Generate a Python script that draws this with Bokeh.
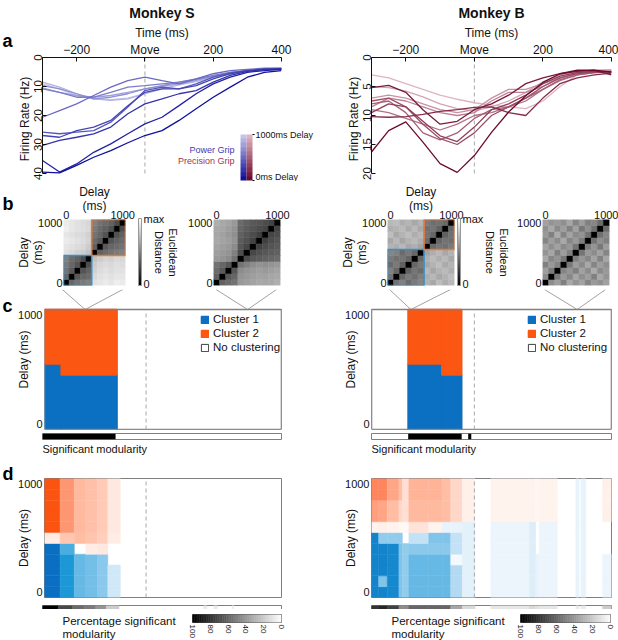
import math
from bokeh.plotting import figure
from bokeh.layouts import row, column
from bokeh.models import (Range1d, FixedTicker, ColorBar, LinearColorMapper, Title,
                          Legend, LegendItem, ColumnDataSource)
from bokeh.core.properties import value
from bokeh.palettes import Greys256
from bokeh.transform import linear_cmap
from bokeh.embed import file_html
from bokeh.resources import INLINE

FONT = "Liberation Sans"
INK = "#111111"

# ======================= DATA =======================
T0, T1, MOVE = -300, 400, 0
times = [-300, -250, -200, -150, -100, -50, 0, 50, 100, 150, 200, 250, 300, 350, 400]
delays = [0, 100, 200, 300, 400, 500, 600, 700, 800, 900, 1000]
time_ticks = [-200, 0, 200, 400]
time_labels = {0: "Move"}

# panel a: firing rate (Hz) per delay condition (0 ... 1000 ms)
rates_S = [
    [39.5, 39.8, 37.2, 34.4, 32.1, 29.4, 26.9, 25.2, 21.7, 17.7, 13.7, 10.2, 6.8, 5.1, 4.5],
    [35.5, 39.5, 36.7, 32.7, 29.8, 26.3, 22.9, 20.6, 16.6, 12.5, 9.1, 6.8, 5.1, 4.5, 4.1],
    [30.3, 28.6, 27.5, 26.3, 24.0, 19.4, 16.0, 14.3, 12.5, 11.4, 8.5, 6.2, 4.8, 4.1, 3.9],
    [26.9, 27.5, 25.2, 24.0, 21.7, 16.6, 12.0, 10.8, 10.8, 9.7, 7.4, 5.6, 4.5, 4.1, 3.9],
    [25.7, 26.3, 25.7, 25.2, 22.3, 17.1, 11.4, 10.2, 10.8, 9.1, 6.8, 5.3, 4.5, 3.9, 3.9],
    [20.6, 18.3, 16.0, 13.1, 10.2, 8.0, 6.8, 8.0, 9.1, 7.4, 5.6, 4.5, 4.1, 3.7, 3.7],
    [10.8, 12.0, 13.7, 13.7, 12.0, 10.2, 9.7, 9.1, 8.5, 7.4, 6.2, 5.1, 4.5, 4.1, 3.9],
    [9.7, 10.8, 12.5, 14.3, 13.7, 12.5, 10.8, 9.7, 8.5, 7.6, 6.4, 5.3, 4.5, 3.9, 3.7],
    [10.5, 12.0, 13.1, 13.7, 13.1, 12.0, 10.8, 9.9, 9.1, 7.9, 6.4, 5.1, 4.5, 4.1, 3.9],
    [8.5, 10.2, 12.5, 14.3, 14.8, 14.3, 12.5, 10.8, 9.4, 8.3, 6.8, 5.6, 4.8, 4.1, 3.9],
    [9.1, 10.8, 13.1, 14.3, 14.5, 14.0, 12.5, 10.2, 9.1, 7.9, 6.8, 5.6, 4.8, 4.1, 3.9],
]
rates_B = [
    [16.3, 12.6, 11.1, 14.6, 18.3, 19.8, 16.9, 12.9, 9.4, 6.6, 4.3, 2.8, 2.2, 2.2, 2.5],
    [5.2, 4.8, 6.0, 9.0, 11.5, 11.0, 9.0, 8.0, 6.5, 4.5, 3.5, 2.8, 2.4, 2.2, 3.0],
    [10.2, 10.3, 10.2, 9.8, 9.3, 9.0, 8.6, 8.5, 9.5, 10.0, 7.0, 4.5, 3.5, 3.0, 2.7],
    [9.5, 8.0, 8.5, 11.0, 13.5, 14.5, 12.0, 9.0, 8.0, 6.5, 4.5, 3.2, 2.6, 2.4, 2.5],
    [7.5, 7.0, 8.5, 11.5, 14.0, 15.0, 13.0, 10.0, 8.5, 7.0, 5.0, 3.5, 2.8, 2.5, 2.6],
    [8.0, 7.5, 9.5, 13.0, 14.2, 13.0, 10.5, 9.0, 8.5, 7.0, 5.5, 3.8, 3.0, 2.6, 2.5],
    [9.0, 9.5, 10.5, 11.5, 12.5, 11.5, 10.0, 9.5, 8.5, 7.5, 5.5, 4.0, 3.0, 2.6, 2.4],
    [8.5, 7.0, 7.5, 8.5, 9.5, 10.0, 9.5, 7.5, 6.0, 6.0, 5.0, 3.5, 2.8, 2.5, 2.4],
    [7.0, 6.5, 7.0, 8.0, 9.0, 9.5, 9.0, 7.0, 5.5, 5.5, 4.5, 3.5, 2.8, 2.4, 2.3],
    [5.0, 5.2, 5.8, 6.8, 8.0, 8.8, 9.2, 8.5, 7.5, 6.0, 4.2, 3.0, 2.5, 2.2, 2.1],
    [3.0, 3.5, 4.5, 5.5, 6.5, 7.2, 7.8, 8.2, 8.5, 8.8, 7.5, 5.0, 3.0, 2.5, 2.3],
]
ymax_S, yticks_S = 40, [0, 10, 20, 30, 40]
ymax_B, yticks_B = 20, [0, 5, 10, 15, 20]

# panel b: euclidean distance matrices (fraction of max), rows/cols = delays
snap_S = [-180, 300]
snap_B = [-185, 300]
dist_S1 = [
    [0, .40, .45, .48, .50, .88, .90, .92, .90, .93, .92],
    [.40, 0, .35, .40, .42, .85, .88, .90, .88, .90, .90],
    [.45, .35, 0, .33, .38, .82, .86, .88, .86, .88, .88],
    [.48, .40, .33, 0, .30, .80, .84, .86, .85, .87, .86],
    [.50, .42, .38, .30, 0, .76, .80, .83, .82, .85, .84],
    [.88, .85, .82, .80, .76, 0, .38, .42, .45, .48, .50],
    [.90, .88, .86, .84, .80, .38, 0, .35, .40, .42, .45],
    [.92, .90, .88, .86, .83, .42, .35, 0, .33, .38, .42],
    [.90, .88, .86, .85, .82, .45, .40, .33, 0, .32, .38],
    [.93, .90, .88, .87, .85, .48, .42, .38, .32, 0, .30],
    [.92, .90, .88, .86, .84, .50, .45, .42, .38, .30, 0],
]
dist_S2 = [
    [0, .38, .42, .45, .60, .62, .64, .66, .65, .66, .68],
    [.38, 0, .35, .40, .58, .60, .62, .64, .63, .65, .66],
    [.42, .35, 0, .34, .55, .58, .60, .62, .60, .62, .64],
    [.45, .40, .34, 0, .45, .50, .55, .58, .56, .58, .60],
    [.60, .58, .55, .45, 0, .30, .34, .36, .38, .40, .42],
    [.62, .60, .58, .50, .30, 0, .28, .32, .34, .36, .38],
    [.64, .62, .60, .55, .34, .28, 0, .26, .30, .33, .35],
    [.66, .64, .62, .58, .36, .32, .26, 0, .25, .30, .33],
    [.65, .63, .60, .56, .38, .34, .30, .25, 0, .27, .30],
    [.66, .65, .62, .58, .40, .36, .33, .30, .27, 0, .26],
    [.68, .66, .64, .60, .42, .38, .35, .33, .30, .26, 0],
]
dist_B1 = [
    [0, .45, .50, .42, .48, .52, .70, .66, .74, .68, .72],
    [.45, 0, .40, .48, .44, .50, .68, .72, .66, .70, .74],
    [.50, .40, 0, .38, .46, .42, .72, .65, .70, .73, .68],
    [.42, .48, .38, 0, .40, .47, .66, .70, .74, .67, .71],
    [.48, .44, .46, .40, 0, .41, .69, .73, .68, .72, .66],
    [.52, .50, .42, .47, .41, 0, .64, .68, .72, .66, .70],
    [.70, .68, .72, .66, .69, .64, 0, .42, .46, .44, .48],
    [.66, .72, .65, .70, .73, .68, .42, 0, .40, .45, .43],
    [.74, .66, .70, .74, .68, .72, .46, .40, 0, .38, .44],
    [.68, .70, .73, .67, .72, .66, .44, .45, .38, 0, .41],
    [.72, .74, .68, .71, .66, .70, .48, .43, .44, .41, 0],
]
dist_B2 = [
    [0, .55, .62, .50, .66, .58, .64, .52, .60, .57, .63],
    [.55, 0, .48, .60, .53, .65, .56, .62, .50, .66, .58],
    [.62, .48, 0, .52, .58, .50, .63, .55, .67, .54, .60],
    [.50, .60, .52, 0, .47, .61, .54, .66, .52, .62, .56],
    [.66, .53, .58, .47, 0, .50, .59, .53, .64, .51, .65],
    [.58, .65, .50, .61, .50, 0, .46, .60, .55, .63, .52],
    [.64, .56, .63, .54, .59, .46, 0, .49, .58, .47, .61],
    [.52, .62, .55, .66, .53, .60, .49, 0, .45, .56, .50],
    [.60, .50, .67, .52, .64, .55, .58, .45, 0, .44, .53],
    [.57, .66, .54, .62, .51, .63, .47, .56, .44, 0, .42],
    [.63, .58, .60, .56, .65, .52, .61, .50, .53, .42, 0],
]

# panel c: clustering blocks (time start, end, number of delay rows in cluster 1)
clu_t0_S, clu_t1_S, clu_n1_S = [-300, -251], [-251, -86], [6, 5]
clu_t0_B, clu_t1_B, clu_n1_B = [-193, -95], [-95, -37], [6, 5]
sig_t0_S, sig_t1_S = [-300], [-86]
sig_t0_B, sig_t1_B = [-193, -18], [-37, -9]

# panel d: signed % (+ cluster 2 / - cluster 1) per time block and delay row (0..1000)
d_t0_S = [-300, -254, -212, -178, -144, -113, 172, 202, 255]
d_t1_S = [-254, -212, -178, -144, -113, -76, 182, 212, 261]
d_val_S = [
    [-100, -100, -100, -100, -100, 12, 100, 100, 100, 100, 100],
    [-80, -80, -80, -80, -65, 35, 65, 65, 65, 65, 65],
    [-55, -55, -55, -55, 0, 40, 42, 42, 42, 42, 42],
    [-50, -50, -50, -50, 12, 36, 38, 38, 38, 38, 38],
    [-42, -42, -42, -42, 15, 30, 32, 32, 32, 32, 32],
    [-20, -20, -20, 0, 0, 12, 15, 15, 15, 15, 15],
    [0, 0, 0, 0, 0, 0, 0, 0, 0, 0, 0],
    [0, 0, 0, 0, 0, 0, 0, 0, 0, 0, 0],
    [0, 0, 0, 0, 0, 0, 0, 0, 0, 0, 0],
]
d_pct_S = [100, 72, 58, 52, 42, 20, 8, 8, 6]

d_t0_B = [-300, -279, -254, -220, -210, -191, -133, -94, -69, -35, 48, 160, 179, 189, 296, 311, 374]
d_t1_B = [-279, -254, -220, -210, -191, -133, -94, -69, -35, 2, 160, 179, 189, 242, 306, 325, 400]
d_val_B = [
    [-90, -90, -90, -90, -90, -90, 8, 60, 60, 75, 75],
    [-90, -45, -90, -90, -90, -40, 10, 55, 55, 75, 75],
    [-88, -88, -88, -88, -88, -40, 8, 40, 40, 55, 55],
    [-45, -45, -45, -45, -45, -40, 5, 25, 25, 40, 40],
    [-40, -40, -40, -40, -40, 0, 5, 20, 20, 20, 20],
    [-55, -55, -55, -55, -42, -25, 18, 42, 42, 45, 45],
    [-55, -55, -55, -55, -42, -45, 8, 42, 42, 45, 45],
    [-55, -55, -55, -55, -42, -45, -10, 40, 40, 40, 40],
    [-30, -30, -30, -5, -25, -25, -10, 25, 25, 25, 25],
    [-12, -12, -12, -12, -12, -12, -12, 10, 10, 10, 10],
    [-8, -8, -8, -8, -8, -8, -8, 8, 8, 8, 8],
    [-14, -14, -14, -14, -14, -14, -14, 8, 8, 8, 8],
    [-10, -10, -10, -10, 0, 0, 0, 6, 6, 6, 6],
    [-8, -8, -8, -8, -8, -8, -8, 8, 8, 8, 8],
    [-10, -10, -10, -10, -10, -10, -10, -10, -10, -10, -10],
    [-10, -10, -10, -10, -10, -10, -10, -10, -10, -10, -10],
    [-8, -8, -8, -8, 0, 0, 0, 10, 10, 10, 10],
]
d_pct_B = [80, 85, 75, 45, 45, 60, 60, 60, 35, 15, 10, 15, 12, 10, 8, 8, 20]

pct_ticks = [100, 80, 60, 40, 20, 0]
pct_key = list(range(0, 100, 2))

# ======================= STYLE / LAYOUT =======================
BLUE, ORANGE = "#0b6fc2", "#fb5612"
BOX_BLUE, BOX_ORANGE = "#3a8ecb", "#e8793a"
GRID_GREY = "#7f7f7f"
BLUE_RAMP = [(0, "#ffffff"), (10, "#e8f3fb"), (25, "#c4e2f5"), (45, "#80c4ea"),
             (60, "#5ab4e3"), (80, "#1c98d6"), (100, "#0a6fc2")]
ORANGE_RAMP = [(0, "#ffffff"), (10, "#fff0ea"), (25, "#ffd7c8"), (45, "#ffb498"),
               (60, "#ff9f7e"), (80, "#fd7c50"), (100, "#fb5410")]


def hx(c):
    return [int(c[i:i + 2], 16) for i in (1, 3, 5)]


def to_hex(rgb):
    return "#%02x%02x%02x" % tuple(max(0, min(255, int(round(v)))) for v in rgb)


def lerp(a, b, f):
    ca, cb = hx(a), hx(b)
    return to_hex([ca[i] + (cb[i] - ca[i]) * f for i in range(3)])


def ramp(anchors, v):
    v = max(anchors[0][0], min(anchors[-1][0], v))
    for (p0, c0), (p1, c1) in zip(anchors, anchors[1:]):
        if v <= p1:
            return lerp(c0, c1, (v - p0) / (p1 - p0))
    return anchors[-1][1]


def signed_color(v):
    return ramp(ORANGE_RAMP, v) if v >= 0 else ramp(BLUE_RAMP, -v)


def grey(p):
    g = 255 * (1 - p / 100.0)
    return to_hex([g, g, g])


colors_S = [lerp("#10109c", "#c4c4ea", d / 1000) for d in delays]
colors_B = [lerp("#6e0b2d", "#dfb4c2", d / 1000) for d in delays]

# page geometry (pixels from the page's top-left corner)
STRIP_W = 14
Y_A0, A_TOP, A_DATA_BOT, A_BOT = 0, 57, 173, 180
Y_B0, B_TOP, B_BOT = 181, 218, 285
Y_C0, C_TOP, C_BOT = 289, 309, 429
Y_S0, S_BOT = 433, 439
Y_D0, D_TOP, D_BOT = 462, 478, 597
Y_P0, P_BOT = 601, 607
Y_K0, K_TOP, K_BOT = 609, 614, 623
Y_END = 640
MAT = 67

COLS = {
    "S": dict(x0=14, w=300, fl=42, fr=281, b1w=171, b1l=44, b2w=129, b2l=28, cb_off=8,
              eu_gap=13, kl=192, kr=281, txt_x=62, leg_x=198),
    "B": dict(x0=314, w=304, fl=371, fr=611, b1w=198, b1l=73, b2w=106, b2l=30, cb_off=3,
              eu_gap=15, kl=520, kr=610, txt_x=391, leg_x=527),
}
letters = ["a", "b", "c", "d"]
letter_base = [40, 203, 305, 473]


def fig(w, h, bl, br, bt, bb, xr, yr, xloc=None, yloc=None, title=None):
    p = figure(width=w, height=h, x_range=xr, y_range=yr, x_axis_location=xloc,
               y_axis_location=yloc, title=title, output_backend="svg", toolbar_location=None,
               min_border_left=bl, min_border_right=br, min_border_top=bt, min_border_bottom=bb)
    p.grid.visible = False
    p.outline_line_color = None
    p.background_fill_color = "white"
    p.border_fill_color = "white"
    return p


def style_axis(ax, size):
    ax.major_label_text_font = FONT
    ax.major_label_text_font_size = size
    ax.major_label_text_color = INK
    ax.axis_label_text_font = FONT
    ax.axis_label_text_font_style = "normal"
    ax.axis_label_text_font_size = "12px"
    ax.axis_label_text_color = INK
    ax.minor_tick_line_color = None


def tpx(c, px):
    return T0 + (px - c["fl"]) * (T1 - T0) / (c["fr"] - c["fl"])


def panel_a(c, rates, ymax, yticks, colors, title, first):
    ext = ymax * (A_BOT - A_TOP) / (A_DATA_BOT - A_TOP)
    p = fig(c["w"], Y_B0 - Y_A0, c["fl"] - c["x0"], c["x0"] + c["w"] - c["fr"],
            A_TOP - Y_A0, Y_B0 - A_BOT, Range1d(T0, T1), Range1d(ext, 0),
            xloc="above", yloc="left", title=title)
    p.title.align = "center"
    p.title.text_font = FONT
    p.title.text_font_size = "14px"
    p.title.text_font_style = "bold"
    p.title.text_color = INK
    p.title.standoff = 4
    xa, ya = p.xaxis[0], p.yaxis[0]
    for ax in (xa, ya):
        style_axis(ax, "12px")
        ax.major_tick_in = 4
        ax.major_tick_out = 0
        ax.major_label_standoff = 1
        ax.axis_label_standoff = 0
        ax.axis_line_color = INK
        ax.major_tick_line_color = INK
    ya.major_label_text_font_size = "11.5px"
    ya.axis_label_standoff = -1
    xa.ticker = FixedTicker(ticks=time_ticks)
    xa.major_label_overrides = time_labels
    xa.axis_label = "Time (ms)"
    ya.ticker = FixedTicker(ticks=yticks)
    ya.bounds = (0, ymax)
    ya.major_label_orientation = "vertical"
    ya.axis_label = "Firing Rate (Hz)"
    p.segment(x0=[MOVE], y0=[0], x1=[MOVE], y1=[ymax], line_color="#a8a8a8",
              line_dash="4 3", line_width=1)
    for i in reversed(range(len(delays))):
        p.line(times, rates[i], line_color=colors[i], line_width=1.3)
    if first:
        cm1 = LinearColorMapper(palette=colors_S, low=delays[0], high=delays[-1])
        cm2 = LinearColorMapper(palette=colors_B, low=delays[0], high=delays[-1])
        common = dict(orientation="vertical", width=6, height=46, padding=0, margin=0,
                      border_line_color=None, background_fill_alpha=0, bar_line_color=None,
                      title=None)
        p.add_layout(ColorBar(color_mapper=cm1, location=(198, 0), ticker=FixedTicker(ticks=[]),
                              major_tick_line_color=None, **common))
        p.add_layout(ColorBar(color_mapper=cm2, location=(204, 0),
                              ticker=FixedTicker(ticks=[delays[0], delays[-1]]),
                              major_label_overrides={delays[0]: "0ms Delay",
                                                     delays[-1]: "1000ms Delay"},
                              major_tick_in=0, major_tick_out=2, major_tick_line_color="black",
                              label_standoff=1, major_label_text_font=FONT,
                              major_label_text_color=INK,
                              major_label_text_font_size="9px", **common))
        sc = ymax / (A_DATA_BOT - A_TOP)
        p.text(x=[tpx(c, 234)] * 2, y=[(149.5 - A_TOP) * sc, (160.5 - A_TOP) * sc],
               text=["Power Grip", "Precision Grip"], text_color=["#3b3bb2", "#a8324e"],
               text_font=value(FONT), text_font_size="9px", text_align="right",
               text_baseline="middle")
    return p


def side_title(s, standoff=0, size="11px"):
    return Title(text=s, align="center", standoff=standoff, text_font=FONT,
                 text_font_size=size, text_font_style="normal", text_color=INK)


def panel_b(c, M1, M2, split):
    figs = []
    specs = [(M1, c["b1w"], c["b1l"]), (M2, c["b2w"], c["b2l"])]
    for k, (M, w, bl) in enumerate(specs):
        p = fig(w, Y_C0 - Y_B0, bl, w - bl - MAT, B_TOP - Y_B0, Y_C0 - B_BOT,
                Range1d(-50, 1050), Range1d(-50, 1050), xloc="above", yloc="left")
        xs, ys, vs = [], [], []
        for i, di in enumerate(delays):
            for j, dj in enumerate(delays):
                xs.append(dj)
                ys.append(di)
                vs.append(M[i][j])
        src = ColumnDataSource(dict(x=xs, y=ys, v=vs))
        cmap = linear_cmap("v", Greys256, 0, 1)
        p.rect("x", "y", width=100, height=100, source=src, fill_color=cmap,
               line_color=cmap, line_width=0.5)
        for ax in (p.xaxis[0], p.yaxis[0]):
            style_axis(ax, "11px")
            ax.ticker = FixedTicker(ticks=[delays[0], delays[-1]])
            ax.axis_line_color = None
            ax.major_tick_line_color = None
            ax.major_tick_out = 0
            ax.major_tick_in = 0
            ax.major_label_standoff = 1
            ax.axis_label_text_line_height = 1.0
        if k == 0:
            p.xaxis[0].axis_label = "Delay\n(ms)"
            p.xaxis[0].axis_label_standoff = -5
            p.yaxis[0].axis_label = "Delay\n(ms)"
            p.yaxis[0].axis_label_standoff = -10
            e = split * 100 - 50
            p.quad(left=[-50], right=[e], bottom=[-50], top=[e], fill_color=None,
                   line_color=BOX_BLUE, line_width=1.6)
            p.quad(left=[e], right=[1050], bottom=[e], top=[1050], fill_color=None,
                   line_color=BOX_ORANGE, line_width=1.6)
            p.add_layout(ColorBar(color_mapper=LinearColorMapper(palette=Greys256, low=0, high=1),
                                  location=(MAT + c["cb_off"], 0), orientation="vertical",
                                  width=3, height=MAT, padding=0, margin=0,
                                  ticker=FixedTicker(ticks=[0, 1]),
                                  major_label_overrides={0: "0", 1: "max"},
                                  major_tick_line_color=None, label_standoff=2,
                                  major_label_text_font=FONT, major_label_text_font_size="11px",
                                  major_label_text_color=INK,
                                  border_line_color=None, background_fill_alpha=0,
                                  bar_line_color="#999999", title=None))
            # blank spacer keeps the rotated colour-bar title clear of the bar labels
            p.add_layout(side_title(" ", standoff=c["eu_gap"]), "right")
            p.add_layout(side_title("Distance"), "right")
            p.add_layout(side_title("Euclidean"), "right")
        figs.append(p)
    return row(*figs)


def no_cluster_intervals(t0s, t1s):
    out0, out1, cur = [], [], T0
    for a, b in sorted(zip(t0s, t1s)):
        if a > cur:
            out0.append(cur)
            out1.append(a)
        cur = max(cur, b)
    if cur < T1:
        out0.append(cur)
        out1.append(T1)
    return out0, out1


def delay_axis(ya):
    style_axis(ya, "11px")
    ya.ticker = FixedTicker(ticks=[delays[0], delays[-1]])
    ya.axis_line_color = None
    ya.major_tick_line_color = None
    ya.major_tick_out = 0
    ya.major_tick_in = 0
    ya.major_label_standoff = 2
    ya.axis_label = "Delay (ms)"
    ya.axis_label_standoff = -16


def panel_c(c, t0s, t1s, n1s, snaps):
    ytop = -50 + 1100 * (C_BOT - Y_C0) / (C_BOT - C_TOP)
    p = fig(c["w"], Y_S0 - Y_C0, c["fl"] - c["x0"], c["x0"] + c["w"] - c["fr"], 0,
            Y_S0 - C_BOT, Range1d(T0, T1), Range1d(-50, ytop), yloc="left")
    delay_axis(p.yaxis[0])
    n0, n1 = no_cluster_intervals(t0s, t1s)
    rn = p.quad(left=n0, right=n1, bottom=[-50] * len(n0), top=[1050] * len(n0),
                fill_color="white", line_color="#404040", line_width=1)
    b_tops = [n * 100 - 50 for n in n1s]
    rb = p.quad(left=t0s, right=t1s, bottom=[-50] * len(t0s), top=b_tops,
                fill_color=BLUE, line_color=BLUE, line_width=1.4)
    ro = p.quad(left=t0s, right=t1s, bottom=b_tops, top=[1050] * len(t0s),
                fill_color=ORANGE, line_color=ORANGE, line_width=1.4)
    p.quad(left=[T0], right=[T1], bottom=[-50], top=[1050], fill_color=None,
           line_color=GRID_GREY, line_width=1.6)
    p.segment(x0=[MOVE], y0=[-50], x1=[MOVE], y1=[1050], line_color="#a8a8a8",
              line_dash="4 3", line_width=1)
    # connectors from the distance matrices to their time points
    m1 = c["x0"] + c["b1l"]
    m2 = c["x0"] + c["b1w"] + c["b2l"]
    cx0, cx1 = [], []
    for mleft, snap in zip([m1, m2], snaps):
        for px in (mleft + 2, mleft + MAT - 4):
            cx0.append(tpx(c, px))
            cx1.append(snap)
    p.segment(x0=cx0, y0=[ytop] * 4, x1=cx1, y1=[1050] * 4, line_color="#8a8a8a",
              line_width=0.8)
    p.add_layout(Legend(items=[LegendItem(label="Cluster 1", renderers=[rb]),
                               LegendItem(label="Cluster 2", renderers=[ro]),
                               LegendItem(label="No clustering", renderers=[rn])],
                        location=(c["leg_x"] - c["fl"], C_BOT - 354), glyph_width=9,
                        glyph_height=9, label_text_font=FONT, label_text_font_size="11.5px",
                        label_text_color=INK,
                        label_height=14, spacing=0, padding=0, margin=0, label_standoff=4,
                        border_line_color=None, background_fill_alpha=0))
    return p


def panel_sig(c, t0s, t1s):
    p = fig(c["w"], Y_D0 - Y_S0, c["fl"] - c["x0"], c["x0"] + c["w"] - c["fr"], 0,
            Y_D0 - S_BOT, Range1d(T0, T1), Range1d(0, 1))
    p.quad(left=t0s, right=t1s, bottom=[0] * len(t0s), top=[1] * len(t0s),
           fill_color="black", line_color=None)
    p.outline_line_color = GRID_GREY
    p.add_layout(Title(text="Significant modularity", align="left", standoff=2, text_font=FONT,
                       text_font_size="11px", text_font_style="normal", text_color=INK),
                 "below")
    return p


def panel_d(c, t0s, t1s, vals):
    p = fig(c["w"], Y_P0 - Y_D0, c["fl"] - c["x0"], c["x0"] + c["w"] - c["fr"],
            D_TOP - Y_D0, Y_P0 - D_BOT, Range1d(T0, T1), Range1d(-50, 1050), yloc="left")
    delay_axis(p.yaxis[0])
    L, R, B, T, C = [], [], [], [], []
    for t0, t1, col in zip(t0s, t1s, vals):
        for d, v in zip(delays, col):
            if v == 0:
                continue
            L.append(t0)
            R.append(t1)
            B.append(d - 50)
            T.append(d + 50)
            C.append(signed_color(v))
    p.quad(left=L, right=R, bottom=B, top=T, fill_color=C, line_color=C, line_width=0.5)
    p.segment(x0=[MOVE], y0=[-50], x1=[MOVE], y1=[1050], line_color="#a8a8a8",
              line_dash="4 3", line_width=1)
    p.outline_line_color = GRID_GREY
    return p


def panel_pct(c, t0s, t1s, pcts):
    p = fig(c["w"], Y_K0 - Y_P0, c["fl"] - c["x0"], c["x0"] + c["w"] - c["fr"],
            0, Y_K0 - P_BOT, Range1d(T0, T1), Range1d(0, 1))
    cols = [grey(v) for v in pcts]
    p.quad(left=t0s, right=t1s, bottom=[0] * len(t0s), top=[1] * len(t0s),
           fill_color=cols, line_color=cols, line_width=0.5)
    p.outline_line_color = GRID_GREY
    return p


def panel_key(c):
    pad = 6
    tw = c["kl"] - c["x0"] - pad
    th = Y_END - Y_K0
    # text carrier on the left (frame = whole canvas, pixel units)
    t = fig(tw, th, 0, 0, 0, 0, Range1d(0, tw), Range1d(th, 0))
    t.text(x=[c["txt_x"] - c["x0"]] * 2, y=[K_TOP - Y_K0, K_TOP - Y_K0 + 13],
           text=["Percentage significant", "modularity"], text_font=value(FONT),
           text_font_size="11.5px", text_baseline="top", text_align="left", text_color=INK)
    p = fig(c["w"] - tw, th, pad, c["x0"] + c["w"] - c["kr"], K_TOP - Y_K0, Y_END - K_BOT,
            Range1d(100, 0), Range1d(0, 1), xloc="below")
    cols = [grey(l + 1) for l in pct_key]
    p.quad(left=pct_key, right=[l + 2 for l in pct_key], bottom=[0] * len(pct_key),
           top=[1] * len(pct_key), fill_color=cols, line_color=cols, line_width=0.5)
    p.outline_line_color = "#555555"
    xa = p.xaxis[0]
    style_axis(xa, "8px")
    xa.ticker = FixedTicker(ticks=pct_ticks)
    xa.axis_line_color = None
    xa.major_tick_line_color = None
    xa.major_tick_out = 0
    xa.major_tick_in = 0
    xa.major_label_standoff = 2
    xa.major_label_orientation = "vertical"
    return row(column(t), column(p))


def letter_strip():
    s = fig(STRIP_W, Y_END, 0, 0, 0, 0, Range1d(0, STRIP_W), Range1d(Y_END, 0))
    s.text(x=[2] * len(letters), y=letter_base, text=letters, text_font=value(FONT),
           text_font_size="18px", text_font_style="bold", text_baseline="alphabetic",
           text_align="left", text_color="black")
    return s


def block_n1(t0s, t1s, n1s, t):
    for a, b, n in zip(t0s, t1s, n1s):
        if a <= t <= b:
            return n
    return 0


def build(key, rates, ymax, yticks, colors, title, M1, M2, snaps,
          ct0, ct1, cn1, st0, st1, dt0, dt1, dval, dpct):
    c = COLS[key]
    first = key == "S"
    split = block_n1(ct0, ct1, cn1, snaps[0])
    return column(
        row(panel_a(c, rates, ymax, yticks, colors, title, first)),
        panel_b(c, M1, M2, split),
        row(panel_c(c, ct0, ct1, cn1, snaps)),
        row(panel_sig(c, st0, st1)),
        row(panel_d(c, dt0, dt1, dval)),
        row(panel_pct(c, dt0, dt1, dpct)),
        panel_key(c),
    )


colS = build("S", rates_S, ymax_S, yticks_S, colors_S, "Monkey S", dist_S1, dist_S2, snap_S,
             clu_t0_S, clu_t1_S, clu_n1_S, sig_t0_S, sig_t1_S, d_t0_S, d_t1_S, d_val_S, d_pct_S)
colB = build("B", rates_B, ymax_B, yticks_B, colors_B, "Monkey B", dist_B1, dist_B2, snap_B,
             clu_t0_B, clu_t1_B, clu_n1_B, sig_t0_B, sig_t1_B, d_t0_B, d_t1_B, d_val_B, d_pct_B)
layout = row(column(letter_strip()), colS, colB)

open("out.html", "w").write(file_html(layout, INLINE, title="Monkey S / Monkey B"))
